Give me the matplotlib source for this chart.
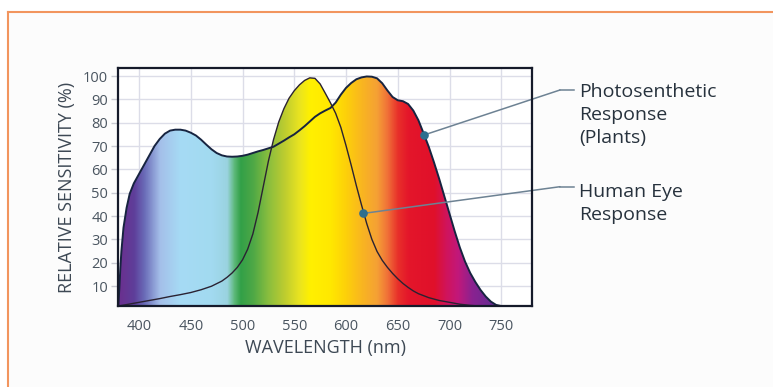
import numpy as np
import matplotlib
matplotlib.use("Agg")
import matplotlib.pyplot as plt
from matplotlib.colors import LinearSegmentedColormap
from matplotlib.patches import Polygon, Rectangle
from matplotlib.lines import Line2D

plt.rcParams['font.family'] = ['Open Sans', 'DejaVu Sans']

# ---- data ----
plant_wl = [380, 381, 382, 383, 385, 388, 391, 395, 400, 405, 410, 415, 420, 425, 430, 435,
            440, 445, 450, 455, 460, 465, 470, 475, 480, 485, 490, 495, 500, 505, 510,
            515, 520, 525, 530, 535, 540, 545, 550, 555, 560, 565, 570, 575, 580, 585,
            590, 595, 600, 605, 610, 615, 620, 625, 630, 635, 640, 645, 650, 655, 660,
            665, 670, 675, 680, 685, 690, 695, 700, 705, 710, 715, 720, 725, 730, 735,
            740, 745, 750]
plant_val = [1.5, 9, 18, 25, 35, 43.5, 49.5, 54, 58, 62, 66, 70, 73, 75.3, 76.6, 77,
             77, 76.6, 75.7, 74.5, 72.7, 70.6, 68.6, 67, 66, 65.5, 65.4, 65.5, 65.8, 66.3, 67,
             67.7, 68.3, 69, 69.7, 71, 72.3, 73.7, 75, 76.7, 78.5, 80.5, 82.5, 84, 85.2, 86.3,
             88.6, 92, 94.9, 97, 98.6, 99.4, 99.8, 99.7, 99, 96.9, 93.8, 91, 89.6, 89.2, 88,
             85.2, 81, 75.4, 69.6, 63, 56, 48.5, 41, 33.5, 26.5, 20.5, 15.6, 11.7, 8.3, 5.5,
             3.3, 1.9, 1.4]

eye_wl = [380, 390, 400, 410, 420, 430, 440, 450, 460, 470, 480, 485, 490, 495, 500, 505,
          510, 515, 520, 525, 530, 535, 540, 545, 550, 555, 560, 565, 570, 575, 580,
          585, 590, 595, 600, 605, 610, 615, 620, 625, 630, 635, 640, 645, 650, 655,
          660, 665, 670, 680, 690, 700, 710, 720, 730]
eye_val = [1.4, 2.2, 3, 3.8, 4.6, 5.5, 6.3, 7.2, 8.4, 9.9, 12.1, 13.7, 15.6, 18, 21.2, 25.8,
           32.3, 41.5, 52.5, 63.5, 72.8, 80.3, 86, 90.5, 93.7, 96.2, 98.1, 99.2, 99, 96.6, 92.6,
           88.5, 84, 78, 70.2, 61.8, 53, 44.7, 36.8, 30, 24.8, 21, 18, 15.4, 13.1, 11.1,
           9.4, 7.9, 6.7, 5, 3.8, 3, 2.2, 1.7, 1.4]

plant_marker = (675.3, 74.7)
eye_marker = (616.6, 41.1)

x_ticks = [400, 450, 500, 550, 600, 650, 700, 750]
y_ticks = [10, 20, 30, 40, 50, 60, 70, 80, 90, 100]

label_plant = ["Photosenthetic", "Response", "(Plants)"]
label_eye = ["Human Eye", "Response"]

# spectrum colour stops (wavelength, colour)
spec_wl = [380, 395, 405, 420, 440, 470, 485, 492, 498, 510, 525, 540, 555, 565, 585,
           600, 615, 630, 640, 650, 660, 685, 697, 708, 722, 740, 782]
spec_col = ['#6b2f8e', '#5e3e9a', '#6a6cb8', '#a4bfe9', '#a6dbf5', '#a2daf0', '#9ad3e0',
            '#5cb878', '#32a048', '#4ea846', '#8abe3e', '#bccc30', '#eae420', '#fff000',
            '#ffe800', '#fdd00a', '#f9b620', '#f5a035', '#f07038', '#e8302a', '#e4162a',
            '#e0102a', '#d0145c', '#c2187a', '#8a2290', '#6a2a92', '#5a2a8a']

XMIN, XMAX = 379.7, 780.0
YMIN, YMAX = 1.43, 103.3

W, H = 773, 387
fig = plt.figure(figsize=(W / 100, H / 100), dpi=100)
fig.patch.set_facecolor('white')

# page background with orange border (top & left)
bx, by = 8.3 / W, (H - 12.3) / H
fig.add_artist(Rectangle((bx, 0), 1 - bx, by, transform=fig.transFigure,
                         facecolor='#fcfcfc', edgecolor='none', zorder=-10))
fig.add_artist(Line2D([bx, 1], [by, by], transform=fig.transFigure, color='#f2955e', lw=1.5))
fig.add_artist(Line2D([bx, bx], [0, by], transform=fig.transFigure, color='#f2955e', lw=1.5))

ax = fig.add_axes([118 / W, (H - 306) / H, (532.3 - 118) / W, (306 - 68.3) / H])
ax.set_facecolor('white')
ax.set_xlim(XMIN, XMAX)
ax.set_ylim(YMIN, YMAX)

# grid
ax.set_xticks(x_ticks)
ax.set_yticks(y_ticks)
ax.grid(True, color='#dcdde8', lw=1.0, zorder=0)
ax.set_axisbelow(True)

# spectrum gradient
lo, hi = spec_wl[0], spec_wl[-1]
cmap = LinearSegmentedColormap.from_list(
    'spec', [((w - lo) / (hi - lo), c) for w, c in zip(spec_wl, spec_col)], N=1024)
grad = np.linspace(XMIN, XMAX, 800)[None, :]
for wl, val in ((plant_wl, plant_val), (eye_wl, eye_val)):
    verts = list(zip(wl, val)) + [(wl[-1], 0), (wl[0], 0)]
    poly = Polygon(verts, closed=True, transform=ax.transData, facecolor='none', edgecolor='none')
    ax.add_patch(poly)
    im = ax.imshow(grad, extent=(XMIN, XMAX, YMIN, YMAX), aspect='auto', cmap=cmap,
                   vmin=lo, vmax=hi, origin='lower', zorder=1, interpolation='bilinear')
    im.set_clip_path(poly)

# outlines
ax.plot(plant_wl, plant_val, color='#172440', lw=1.4, zorder=3, solid_joinstyle='round')
ax.plot(eye_wl, eye_val, color='#2a2232', lw=1.0, zorder=3, solid_joinstyle='round')

# markers
for m in (plant_marker, eye_marker):
    ax.plot([m[0]], [m[1]], 'o', ms=5.2, color='#2d6f8e', zorder=5)

# spines and ticks
for s in ax.spines.values():
    s.set_color('#151a2a')
    s.set_linewidth(1.6)
    s.set_zorder(6)
ax.tick_params(axis='y', length=5, color='#c8c9d2', width=1, pad=2, labelsize=10.5,
               labelcolor='#4a5560')
ax.tick_params(axis='x', length=0, pad=9, labelsize=10.5, labelcolor='#4a5560')

ax.set_xlabel('WAVELENGTH (nm)', fontsize=13, color='#3d4854', labelpad=4)
ax.set_ylabel('RELATIVE SENSITIVITY (%)', fontsize=13, color='#3d4854', labelpad=5)

# leaders & labels
lead_col = '#6d8293'
def leader(marker, ypix, lines, baselines):
    ax.annotate('', xy=marker, xycoords='data', xytext=(560 / W, (H - ypix) / H),
                textcoords='figure fraction',
                arrowprops=dict(arrowstyle='-', color=lead_col, lw=1.1, shrinkA=0, shrinkB=0),
                zorder=4)
    fig.add_artist(Line2D([560 / W, 574 / W], [(H - ypix) / H] * 2,
                          transform=fig.transFigure, color=lead_col, lw=1.1))
    for t, b in zip(lines, baselines):
        fig.text(579 / W, (H - b) / H, t, fontsize=14, color='#27323d', va='baseline', ha='left')

leader(plant_marker, 90, label_plant, [96.7, 120.0, 143.3])
leader(eye_marker, 186.7, label_eye, [196.7, 220.0])

fig.savefig('out.png', dpi=100)
